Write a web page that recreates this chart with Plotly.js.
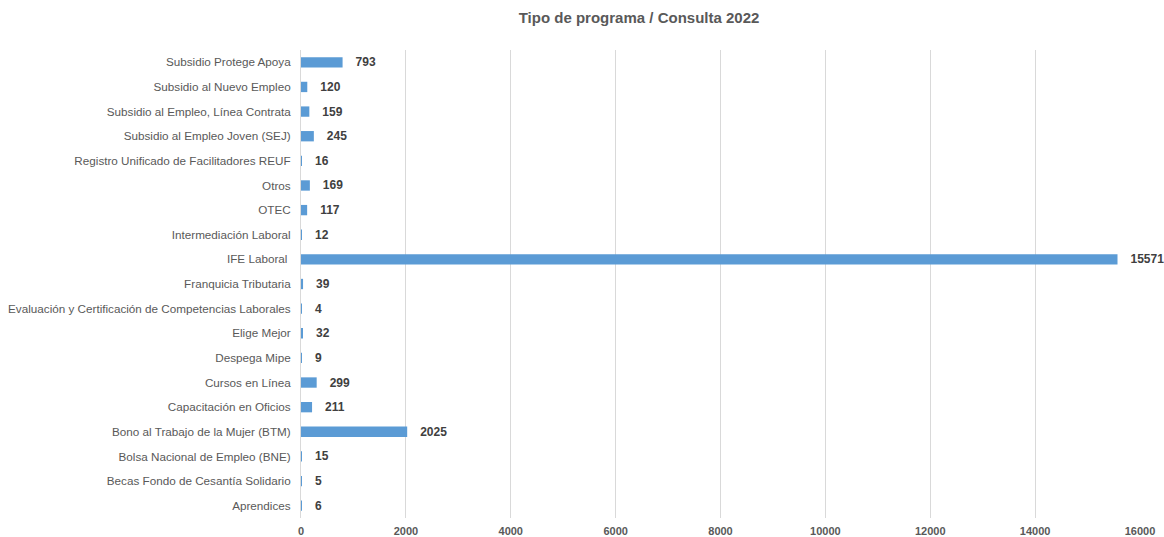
<!DOCTYPE html>
<html>
<head>
<meta charset="utf-8">
<script src="https://cdn.plot.ly/plotly-3.0.1.min.js"></script>
<style>html,body{margin:0;padding:0;background:#fff;}#chart{width:1164px;height:537px;}</style>
</head>
<body>
<div id="chart"></div>
<script>
const categories = [
  "Subsidio Protege Apoya",
  "Subsidio al Nuevo Empleo",
  "Subsidio al Empleo, Línea Contrata",
  "Subsidio al Empleo Joven (SEJ)",
  "Registro Unificado de Facilitadores REUF",
  "Otros",
  "OTEC",
  "Intermediación Laboral",
  "IFE Laboral ",
  "Franquicia Tributaria",
  "Evaluación y Certificación de Competencias Laborales",
  "Elige Mejor",
  "Despega Mipe",
  "Cursos en Línea",
  "Capacitación en Oficios",
  "Bono al Trabajo de la Mujer (BTM)",
  "Bolsa Nacional de Empleo (BNE)",
  "Becas Fondo de Cesantía Solidario",
  "Aprendices"
];
const values = [793, 120, 159, 245, 16, 169, 117, 12, 15571, 39, 4, 32, 9, 299, 211, 2025, 15, 5, 6];
const xTicks = [0, 2000, 4000, 6000, 8000, 10000, 12000, 14000, 16000];

const trace = {
  type: 'bar',
  orientation: 'h',
  y: categories,
  x: values,
  marker: {color: '#5B9BD5'},
  text: values.map(String),
  texttemplate: '   %{text}',
  textposition: 'outside',
  constraintext: 'none',
  cliponaxis: false,
  textfont: {family: 'Liberation Sans, Arial, sans-serif', size: 12, color: '#404040', weight: 'bold'},
  hoverinfo: 'x+y'
};

const layout = {
  width: 1164,
  height: 537,
  margin: {l: 301, r: 24, t: 50, b: 19},
  paper_bgcolor: '#ffffff',
  plot_bgcolor: '#ffffff',
  bargap: 0.58,
  showlegend: false,
  title: {
    text: '<b>Tipo de programa / Consulta 2022</b>',
    x: 0.549, xref: 'container', xanchor: 'center',
    y: 0.967, yref: 'container', yanchor: 'middle',
    font: {family: 'Liberation Sans, Arial, sans-serif', size: 15, color: '#595959'}
  },
  xaxis: {
    range: [0, 16000],
    tickvals: xTicks,
    ticktext: xTicks.map(String),
    showgrid: true,
    gridcolor: '#d9d9d9',
    gridwidth: 1,
    zeroline: false,
    showline: false,
    ticks: '',
    ticklabelstandoff: 5,
    tickfont: {family: 'Liberation Sans, Arial, sans-serif', size: 11, color: '#595959', weight: 'bold'},
    fixedrange: true
  },
  yaxis: {
    autorange: 'reversed',
    type: 'category',
    showgrid: false,
    zeroline: false,
    showline: true,
    linecolor: '#d9d9d9',
    linewidth: 1,
    ticks: '',
    ticklabelstandoff: 7,
    tickfont: {family: 'Liberation Sans, Arial, sans-serif', size: 11.7, color: '#595959'},
    fixedrange: true
  }
};

Plotly.newPlot('chart', [trace], layout, {displayModeBar: false, staticPlot: false});
</script>
</body>
</html>
